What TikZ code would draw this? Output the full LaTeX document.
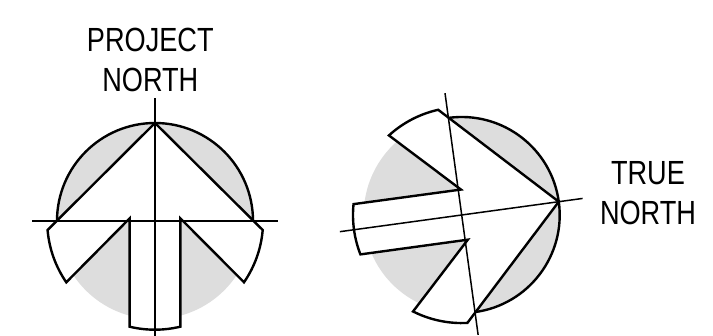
\documentclass[tikz,border=0pt]{standalone}
\usepackage{fontspec}
\setmainfont[FakeStretch=0.81]{Liberation Sans}
\tikzset{
  x=1pt,y=1pt,
  disc/.style={fill=discgrey,draw=none},
  outline/.style={draw=black,line width=2.4pt,line join=miter},
  arrowshape/.style={fill=white,draw=black,line width=2.4pt,line join=miter},
  axis/.style={draw=black,line width=1.5pt},
  lbl/.style={font=\fontsize{33.5}{40}\selectfont,align=center,inner sep=0pt,text=black}
}
\definecolor{discgrey}{HTML}{DDDDDD}
\newcommand{\northmark}{%
  \path[disc] (0,0) circle[radius=98];
  \draw[outline] (180:98) arc[start angle=180,end angle=0,radius=98];
  \draw[arrowshape] (0,98) -- (107.7,-9)
    arc[start angle=-4.8,end angle=-34.6,radius=108]
    -- (25.3,2.7) -- (25.3,-105.7)
    arc[start angle=-76.5,end angle=-103.5,radius=108.7]
    -- (-25.3,2.7) -- (-88.7,-61.3)
    arc[start angle=-145.4,end angle=-175.2,radius=108]
    -- cycle;
}
\begin{document}
\begin{tikzpicture}
\useasboundingbox (0,0) rectangle (713,336);
% left figure
\begin{scope}[shift={(155,115)}]
  \northmark
  \coordinate (lt) at (0,123);
  \coordinate (lb) at (0,-120);
  \coordinate (ll) at (-123,0);
  \coordinate (lr) at (123,0);
  \draw[axis] (lb) -- (lt);
  \draw[axis] (ll) -- (lr);
\end{scope}
% right figure
\begin{scope}[shift={(461.7,121)},rotate=-82.2]
  \northmark
  \coordinate (rt) at (0,122);
  \coordinate (rb) at (0,-123);
  \coordinate (rl) at (-123,0);
  \coordinate (rr) at (121,0);
  \draw[axis] (rb) -- (rt);
  \draw[axis] (rl) -- (rr);
\end{scope}
\node[lbl] (pn) at (150.3,275.7) {PROJECT\\NORTH};
\node[lbl] (tn) at (648,142.8) {TRUE\\NORTH};
\end{tikzpicture}
\end{document}
